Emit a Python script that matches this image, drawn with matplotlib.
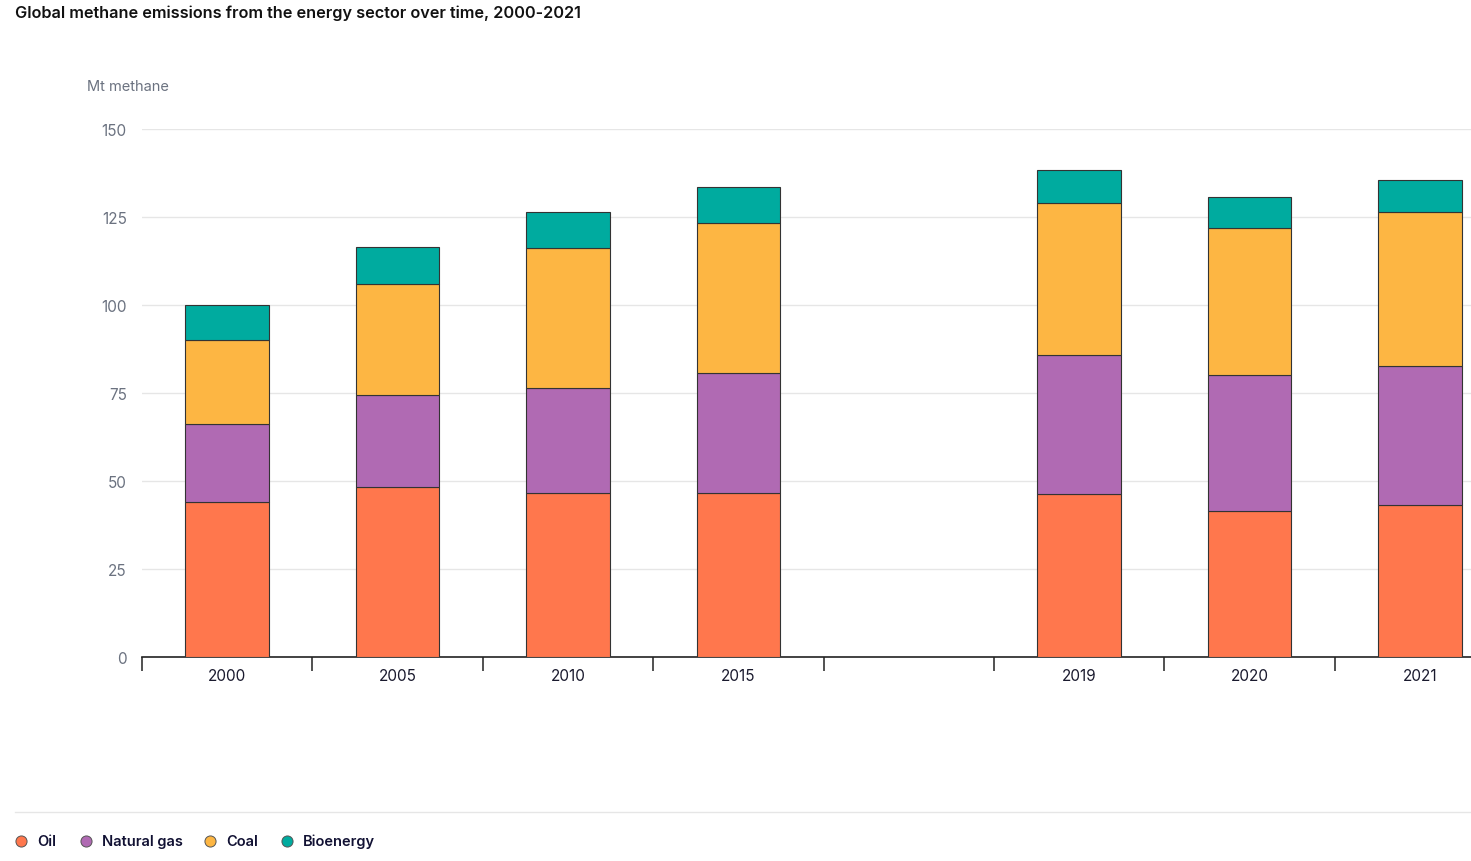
import matplotlib.pyplot as plt
import numpy as np

plt.rcParams['font.family'] = ['Inter', 'DejaVu Sans']

# 数据
slots = ['2000', '2005', '2010', '2015', '', '2019', '2020', '2021']
years = ['2000', '2005', '2010', '2015', '2019', '2020', '2021']
oil = [44.0, 48.3, 46.6, 46.6, 46.3, 41.5, 43.2]
natural_gas = [22.2, 26.1, 29.8, 34.1, 39.5, 38.6, 39.5]
coal = [23.9, 31.6, 39.8, 42.6, 43.2, 41.8, 43.7]
bioenergy = [9.9, 10.5, 10.2, 10.2, 9.4, 8.8, 9.1]

series = [('Oil', oil, '#ff774d'),
          ('Natural gas', natural_gas, '#b06ab3'),
          ('Coal', coal, '#fdb643'),
          ('Bioenergy', bioenergy, '#00ab9f')]

fig = plt.figure(figsize=(14.71, 8.62), dpi=100)
# 坐标轴右侧超出画布，被裁掉
slot_w = 170.4
ax = fig.add_axes([142 / 1471, 1 - 658 / 862, slot_w * len(slots) / 1471, (658 - 130) / 862])

x = [slots.index(y) for y in years]
bottom = np.zeros(len(years))
for name, vals, color in series:
    ax.bar(x, vals, width=0.49, bottom=bottom, color=color,
           edgecolor='#333333', linewidth=0.8, zorder=3)
    bottom += np.array(vals)

ax.set_xlim(-0.5, len(slots) - 0.5)
ax.set_ylim(0, 150)

# 网格线
ax.set_yticks([0, 25, 50, 75, 100, 125, 150])
ax.yaxis.grid(True, color='#e6e6e6', linewidth=1, zorder=0)
ax.tick_params(axis='y', length=0, pad=11, labelsize=11, labelcolor='#6b7280')

# x轴刻度在格子边界，标签在中间
ax.set_xticks(np.arange(-0.5, len(slots) - 0.5, 1))
ax.set_xticklabels([])
ax.set_xticks(np.arange(len(slots)), minor=True)
ax.set_xticklabels(slots, minor=True)
ax.tick_params(axis='x', which='major', length=10, width=1.2, color='#333333', direction='out')
ax.tick_params(axis='x', which='minor', length=0, pad=8, labelsize=11, labelcolor='#1a1a2e')

for s in ['top', 'right', 'left']:
    ax.spines[s].set_visible(False)
ax.spines['bottom'].set_color('#222222')
ax.spines['bottom'].set_linewidth(1.2)

fig.text(15 / 1471, 1 - 13 / 862, 'Global methane emissions from the energy sector over time, 2000-2021',
         fontsize=11.7, fontweight='semibold', color='#111111', va='center', ha='left')
fig.text(87 / 1471, 1 - 87 / 862, 'Mt methane', fontsize=10.5, color='#6b7280', va='center', ha='left')

# 底部分隔线
fig.add_artist(plt.Line2D([15 / 1471, 1], [1 - 813 / 862, 1 - 813 / 862], color='#e6e6e6', linewidth=1))

# 图例
leg_x = [21, 86, 210, 287]
for (name, vals, color), lx in zip(series, leg_x):
    fig.add_artist(plt.Line2D([lx / 1471], [1 - 842 / 862], marker='o', markersize=8,
                              markerfacecolor=color, markeredgecolor='#555555',
                              markeredgewidth=0.7, linestyle='none'))
    fig.text((lx + 16) / 1471, 1 - 842 / 862, name, fontsize=10.5, fontweight='semibold',
             color='#111133', va='center', ha='left')

fig.savefig('out.png', dpi=100)
